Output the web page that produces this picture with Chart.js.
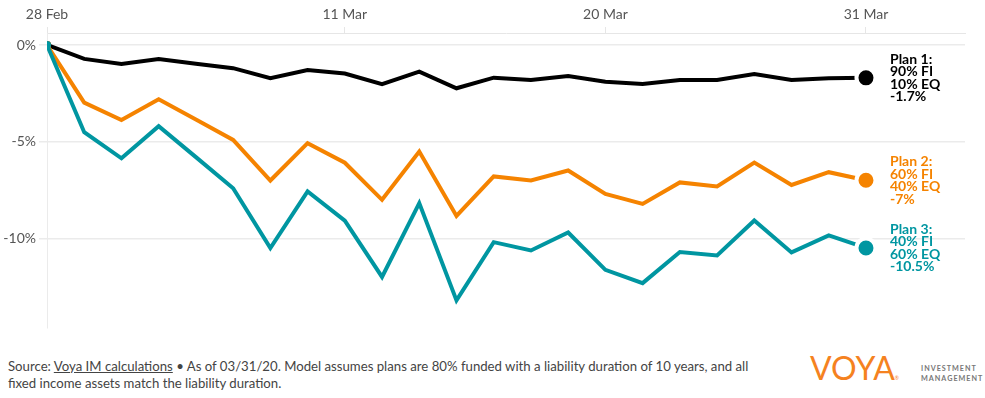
<!DOCTYPE html>
<html>
<head>
<meta charset="utf-8">
<script src="https://cdn.jsdelivr.net/npm/chart.js@4/dist/chart.umd.min.js"></script>
<style>
  html, body { margin: 0; padding: 0; background: #fff; }
  #wrap { position: relative; width: 985px; height: 398px; overflow: hidden; }
  #box { position: absolute; left: 0; top: 0; width: 985px; height: 345px; }
  #foot { position: absolute; left: 8px; top: 358px; font-family: Lato, "Open Sans", sans-serif; font-size: 13.2px; line-height: 17px; color: #444; }
  #foot u { text-decoration: underline; }
  #logo { position: absolute; left: 810px; top: 350px; font-family: Lato, sans-serif; font-weight: 400; font-size: 32px; color: #f5821f; letter-spacing: 0px; line-height: 36px; }
  #logo sup { font-size: 5px; vertical-align: baseline; color: #f5821f; }
  #im { position: absolute; left: 921px; top: 364px; font-family: Lato, sans-serif; font-weight: 700; font-size: 7.2px; line-height: 10px; letter-spacing: 1px; color: #777; }
</style>
</head>
<body>
<div id="wrap">
  <div id="box"><canvas id="c"></canvas></div>
  <div id="foot">Source: <u>Voya IM calculations</u> • As of 03/31/20. Model assumes plans are 80% funded with a liability duration of 10 years, and all<br>fixed income assets match the liability duration.</div>
  <div id="logo">VOYA<sup>®</sup></div>
  <div id="im">INVESTMENT<br>MANAGEMENT</div>
</div>
<script>
const dates = ["28 Feb","2 Mar","3 Mar","4 Mar","5 Mar","6 Mar","9 Mar","10 Mar","11 Mar","12 Mar","13 Mar","16 Mar","17 Mar","18 Mar","19 Mar","20 Mar","23 Mar","24 Mar","25 Mar","26 Mar","27 Mar","30 Mar","31 Mar"];
const tickLabels = ["28 Feb","11 Mar","20 Mar","31 Mar"];
const yTicks = [0, -5, -10];
const plan1 = [0,-0.72,-0.98,-0.72,-0.97,-1.2,-1.72,-1.29,-1.48,-2.03,-1.38,-2.24,-1.69,-1.81,-1.6,-1.9,-2.02,-1.81,-1.81,-1.5,-1.81,-1.72,-1.7];
const plan2 = [0,-2.98,-3.88,-2.81,-3.85,-4.91,-7.01,-5.08,-6.09,-8.01,-5.51,-8.84,-6.8,-7.01,-6.49,-7.7,-8.22,-7.11,-7.32,-6.08,-7.24,-6.58,-7.0];
const plan3 = [0,-4.51,-5.86,-4.2,-5.8,-7.41,-10.51,-7.58,-9.09,-12.0,-8.18,-13.21,-10.2,-10.63,-9.7,-11.63,-12.32,-10.71,-10.89,-9.08,-10.73,-9.85,-10.5];
const label1 = ["Plan 1:","90% FI","10% EQ","-1.7%"];
const label2 = ["Plan 2:","60% FI","40% EQ","-7%"];
const label3 = ["Plan 3:","40% FI","60% EQ","-10.5%"];
const colors = ["#000000", "#f58300", "#0096a1"];

const tickIdx = tickLabels.map(l => dates.indexOf(l));
const last = dates.length - 1;
const toXY = arr => arr.map((v, i) => ({x: i, y: v}));

function ds(data, color, order, labels) {
  return {
    data: toXY(data), borderColor: color, backgroundColor: color, borderWidth: 4,
    tension: 0, order: order, planLabels: labels,
    pointRadius: c => c.dataIndex === 0 ? 4 : (c.dataIndex === last ? 9.5 : 0),
    pointBorderWidth: c => c.dataIndex === last ? 4 : 0,
    pointBorderColor: "#ffffff",
    pointHoverRadius: 0
  };
}

const labelPlugin = {
  id: "planLabels",
  afterDatasetsDraw(chart) {
    const ctx = chart.ctx;
    ctx.save();
    ctx.font = "700 14px Lato, sans-serif";
    ctx.textAlign = "left";
    ctx.textBaseline = "middle";
    chart.data.datasets.forEach((d, i) => {
      const meta = chart.getDatasetMeta(i);
      const p = meta.data[meta.data.length - 1];
      const lh = 12.5;
      const n = d.planLabels.length;
      ctx.fillStyle = d.borderColor;
      d.planLabels.forEach((t, k) => {
        ctx.fillText(t, 890, p.y + (k - (n - 1) / 2) * lh);
      });
    });
    ctx.restore();
  }
};

const tickFont = {family: "Lato, sans-serif", size: 14};
new Chart(document.getElementById("c"), {
  type: "line",
  data: { datasets: [ ds(plan1, colors[0], 2, label1), ds(plan2, colors[1], 1, label2), ds(plan3, colors[2], 0, label3) ] },
  plugins: [labelPlugin],
  options: {
    responsive: true, maintainAspectRatio: false, animation: false,
    layout: { padding: { left: 0, right: 20, top: 0, bottom: 17 } },
    plugins: { legend: { display: false }, tooltip: { enabled: false } },
    scales: {
      x: {
        type: "linear", position: "top", min: 0, max: 24.66,
        afterBuildTicks: s => { s.ticks = tickIdx.map(v => ({value: v})); },
        afterFit: s => { s.height = 33; },
        ticks: { callback: v => dates[v], color: "#555", font: tickFont, padding: 4, maxRotation: 0, autoSkip: false },
        grid: { drawOnChartArea: false, drawTicks: true, tickLength: 6, color: "#e6e6e6" },
        border: { display: true, color: "#e6e6e6" }
      },
      y: {
        min: -14.64, max: 0.62,
        afterBuildTicks: s => { s.ticks = yTicks.map(v => ({value: v})); },
        afterFit: s => { s.width = 47; },
        ticks: { callback: v => v + "%", color: "#555", font: tickFont, padding: 3 },
        grid: { color: "#ebebeb", tickLength: 8, lineWidth: 1.5 },
        border: { display: true, color: "#ebebeb" }
      }
    }
  }
});
</script>
</body>
</html>
